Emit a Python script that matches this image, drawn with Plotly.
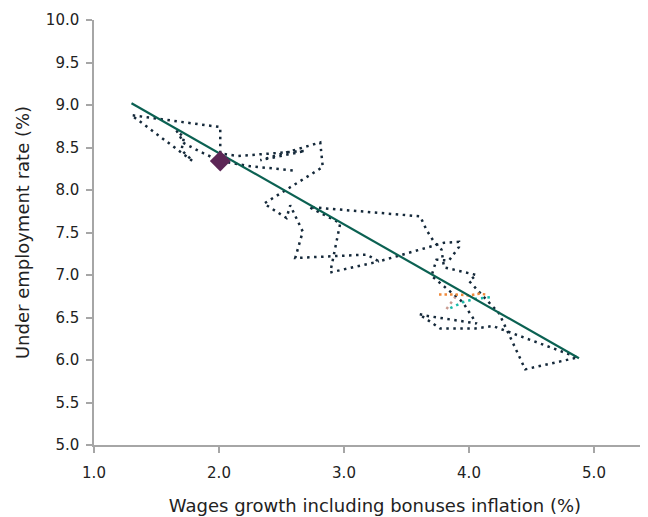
import plotly.graph_objects as go

# Main historical path (wages growth %, under-employment rate %)
path_x = [2.59, 2.25, 2.01, 1.85, 1.72, 1.66, 1.72, 1.70, 1.79, 1.30, 2.01, 2.01, 2.15, 2.69, 2.33, 2.81,
          2.83, 2.36, 2.54, 2.57, 2.67, 2.61, 3.18, 3.28, 3.80, 3.92, 3.92, 3.84, 3.74, 3.70, 3.95, 4.06,
          3.66, 3.60, 3.72, 3.77, 4.05, 4.19, 4.87, 4.45, 4.24, 4.00, 4.06, 3.80, 3.78, 3.72, 3.66, 3.61,
          2.72, 2.97, 2.89, 3.28]
path_y = [8.23, 8.28, 8.34, 8.45, 8.55, 8.70, 8.62, 8.47, 8.34, 8.88, 8.74, 8.43, 8.40, 8.46, 8.35, 8.56,
          8.27, 7.84, 7.67, 7.82, 7.51, 7.20, 7.24, 7.16, 7.38, 7.39, 7.33, 7.17, 7.18, 6.99, 6.68, 6.43,
          6.52, 6.54, 6.42, 6.37, 6.37, 6.40, 6.03, 5.89, 6.55, 6.93, 7.00, 7.09, 7.30, 7.39, 7.53, 7.69,
          7.80, 7.61, 7.03, 7.16]

# Recent / projected short series
orange_x = [3.76, 3.90, 4.00, 4.08, 4.14]
orange_y = [6.77, 6.77, 6.76, 6.78, 6.77]
teal_x = [3.85, 3.95, 4.05, 4.18]
teal_y = [6.61, 6.68, 6.72, 6.74]
brown_x = [3.82, 3.86, 3.89]
brown_y = [6.60, 6.68, 6.74]

# Trend line end points
trend_x = [1.30, 4.88]
trend_y = [9.02, 6.02]

# Highlighted point
marker_x = [2.01]
marker_y = [8.34]

x_ticks = [1.0, 2.0, 3.0, 4.0, 5.0]
y_ticks = [5.0, 5.5, 6.0, 6.5, 7.0, 7.5, 8.0, 8.5, 9.0, 9.5, 10.0]

FONT = "'DejaVu Sans', sans-serif"

fig = go.Figure()
fig.add_trace(go.Scatter(x=path_x, y=path_y, mode="lines",
                         line=dict(color="#15293a", width=2.5, dash="2.5px,4.5px"),
                         showlegend=False, hoverinfo="skip"))
fig.add_trace(go.Scatter(x=orange_x, y=orange_y, mode="lines",
                         line=dict(color="#f08a3c", width=2.5, dash="2.5px,3px"),
                         showlegend=False))
fig.add_trace(go.Scatter(x=teal_x, y=teal_y, mode="lines",
                         line=dict(color="#1bbaa8", width=2.5, dash="2.5px,4px"),
                         showlegend=False))
fig.add_trace(go.Scatter(x=brown_x, y=brown_y, mode="lines",
                         line=dict(color="#c99a90", width=2.5, dash="2.5px,4px"),
                         showlegend=False))
fig.add_trace(go.Scatter(x=trend_x, y=trend_y, mode="lines",
                         line=dict(color="#0b6152", width=2.2),
                         showlegend=False))
fig.add_trace(go.Scatter(x=marker_x, y=marker_y, mode="markers",
                         marker=dict(symbol="diamond", size=16, color="#5c2656"),
                         showlegend=False))

tick_font = dict(family=FONT, size=15, color="#222222")
title_font = dict(family=FONT, size=18, color="#222222")
fig.update_layout(
    width=648, height=517,
    margin=dict(l=86, r=0, t=12, b=80),
    paper_bgcolor="white", plot_bgcolor="white",
    font=tick_font,
    xaxis=dict(range=[1.0, 5.496], tickvals=x_ticks, tickformat=".1f", automargin=False,
               showgrid=False, zeroline=False, showline=True, linecolor="#a6a6a6", linewidth=1.5,
               ticks="outside", ticklen=6, tickcolor="#a6a6a6", tickwidth=1.5,
               tickfont=tick_font, ticklabelstandoff=7,
               title=dict(text="Wages growth including bonuses inflation (%)",
                          font=title_font, standoff=19)),
    yaxis=dict(range=[5.0, 10.0], tickvals=y_ticks, tickformat=".1f", automargin=False,
               showgrid=False, zeroline=False, showline=True, linecolor="#a6a6a6", linewidth=1.5,
               ticks="outside", ticklen=6, tickcolor="#a6a6a6", tickwidth=1.5,
               tickfont=tick_font, ticklabelstandoff=4,
               title=dict(text="Under employment rate (%)",
                          font=title_font, standoff=12)),
)

fig.write_html("out.html")
